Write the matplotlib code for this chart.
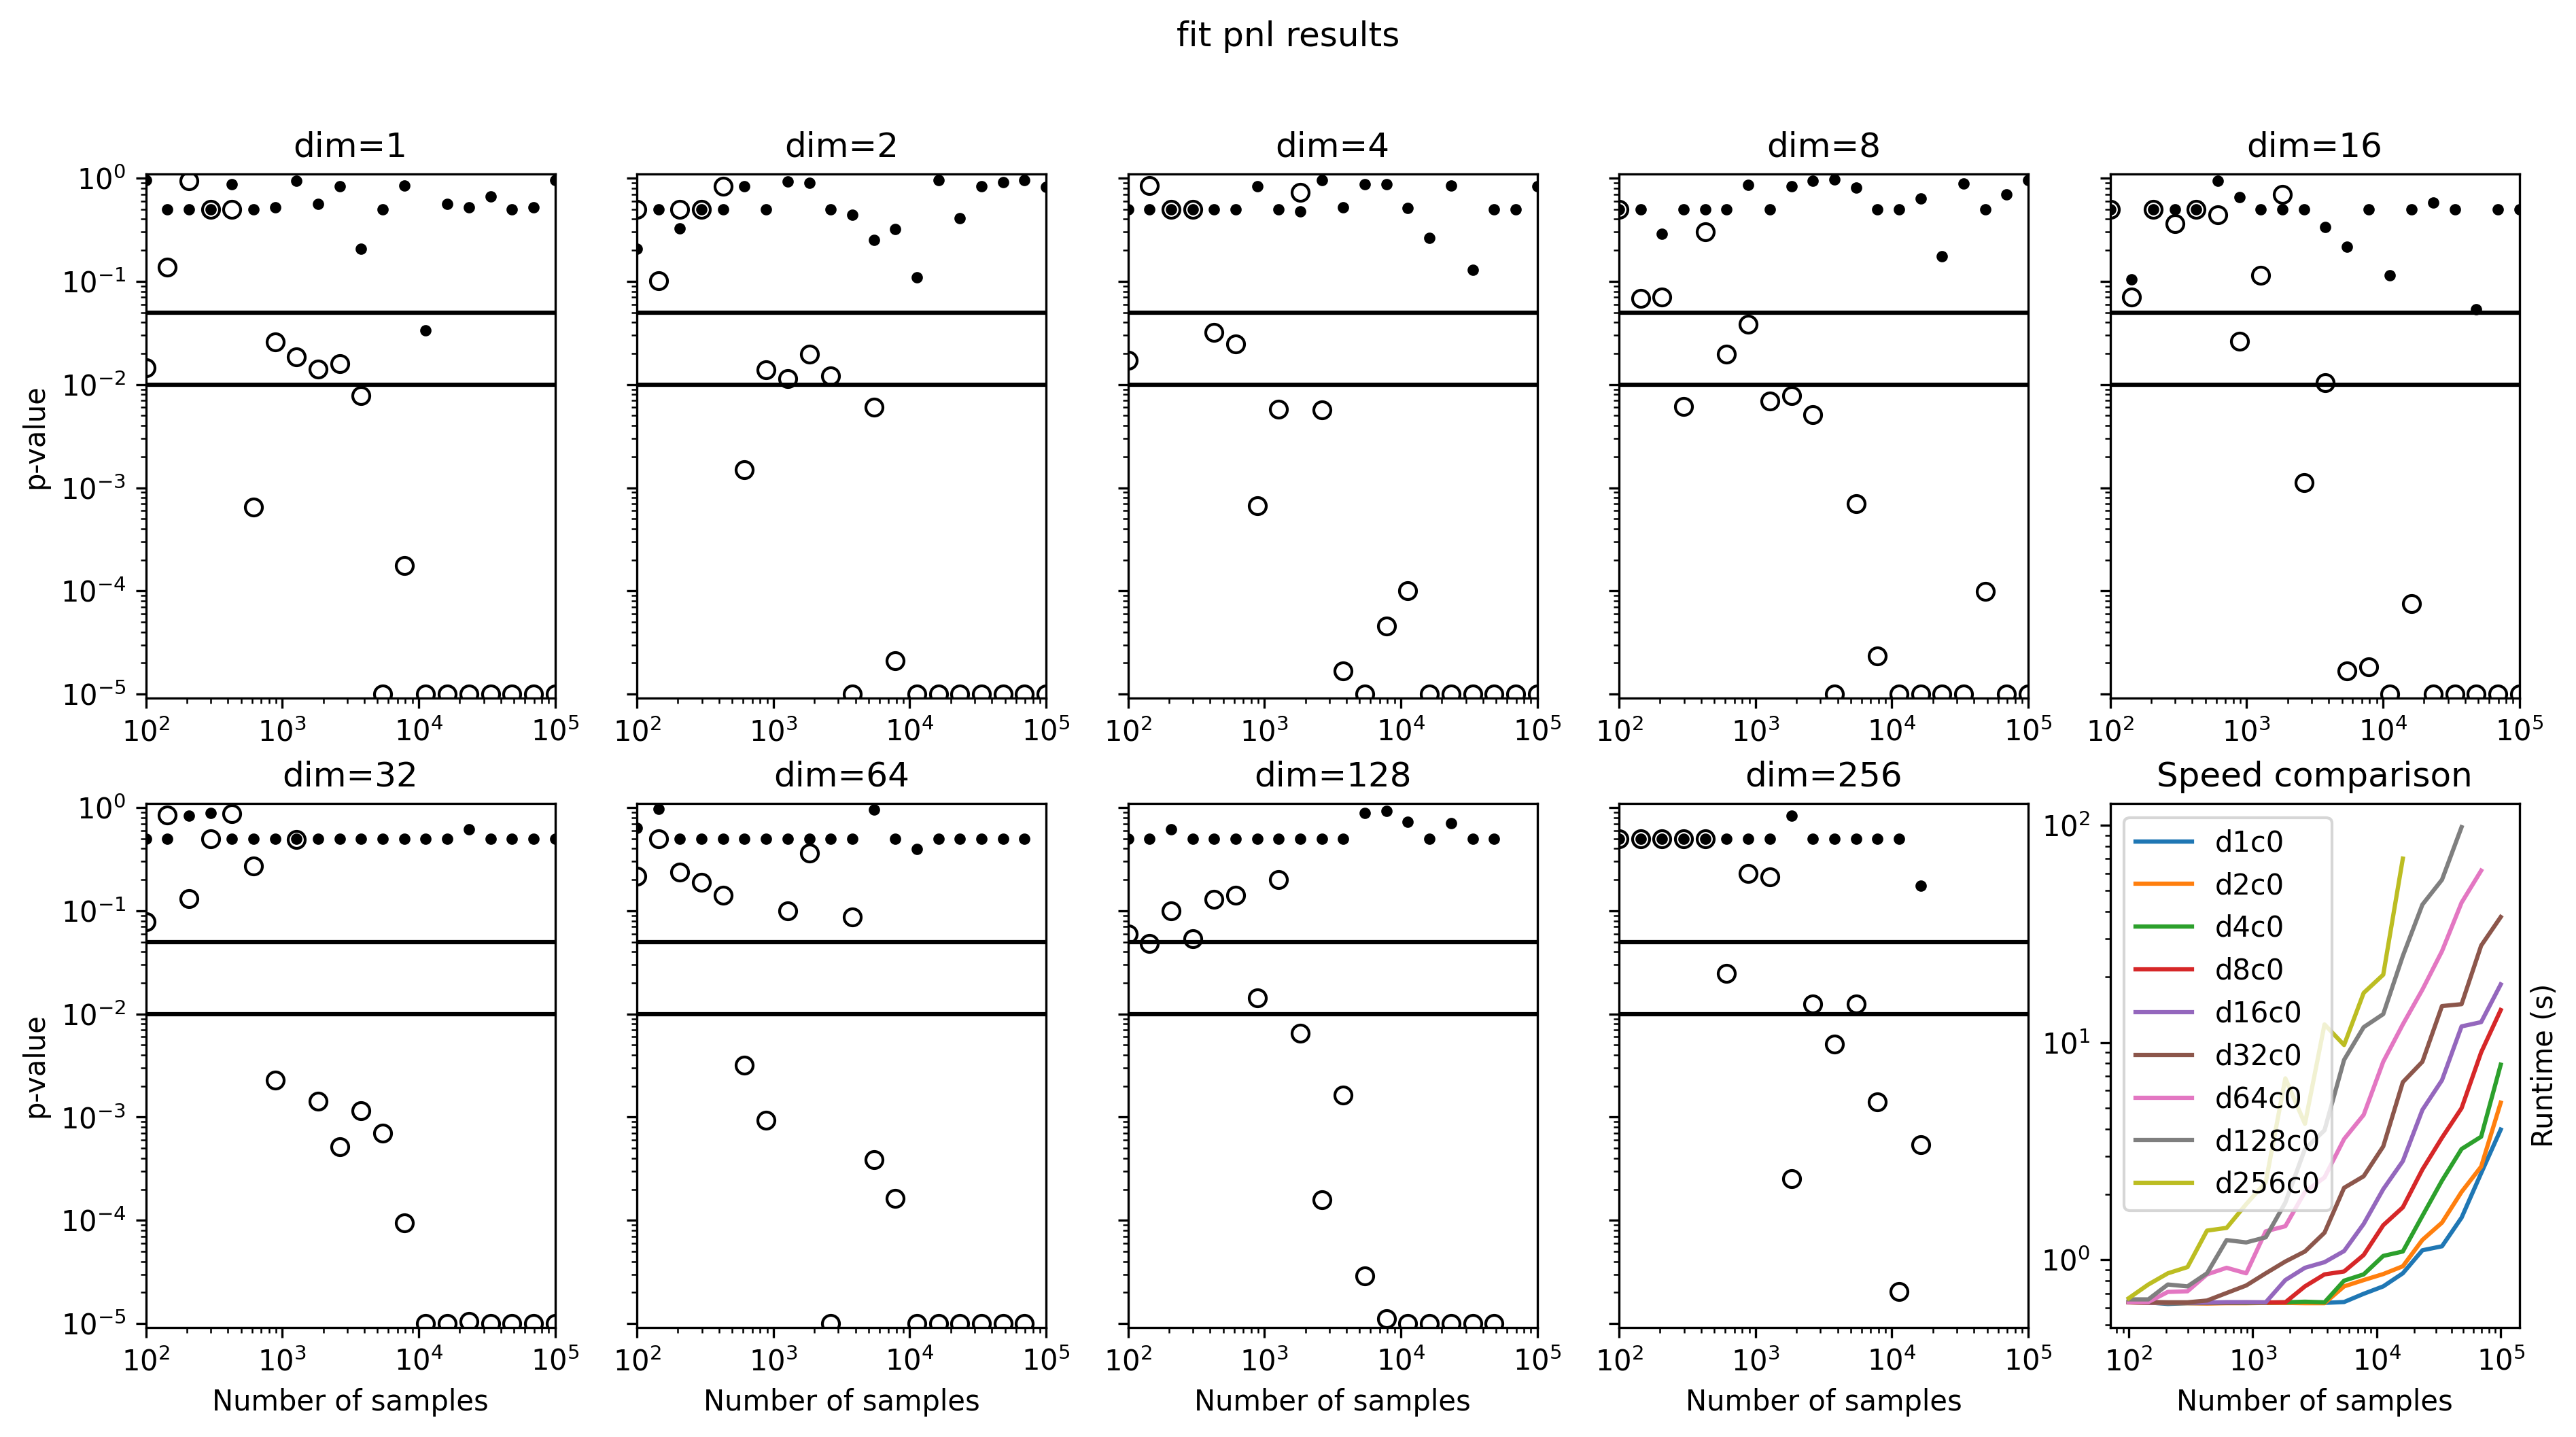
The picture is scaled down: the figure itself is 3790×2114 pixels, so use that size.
import numpy as np
import matplotlib
matplotlib.use("Agg")
import matplotlib.pyplot as plt

# sample sizes used in every test
n_samples = [100, 144, 207, 298, 428, 616, 886, 1274, 1833, 2637,
             3793, 5456, 7848, 11288, 16238, 23357, 33598, 48329, 69519, 100000]

dims = [1, 2, 4, 8, 16, 32, 64, 128, 256]

# p-values, independent data (filled dots) and dependent data (open circles)
pval_indep_d1 = [0.95, 0.5, 0.5, 0.5, 0.875, 0.5, 0.52, 0.94, 0.56, 0.83,
                 0.207, 0.5, 0.85, 0.0335, 0.56, 0.52, 0.665, 0.5, 0.52, 0.95]
pval_dep_d1 = [0.0145, 0.138, 0.94, 0.5, 0.5, 6.5e-4, 0.0259, 0.0185, 0.0141, 0.016,
               0.0078, 1e-5, 1.75e-4, 1e-5, 1e-5, 1e-5, 1e-5, 1e-5, 1e-5, 1e-5]

pval_indep_d2 = [0.206, 0.5, 0.328, 0.5, 0.5, 0.84, 0.5, 0.935, 0.905, 0.5,
                 0.442, 0.253, 0.322, 0.110, 0.96, 0.41, 0.83, 0.92, 0.96, 0.82]
pval_dep_d2 = [0.5, 0.101, 0.5, 0.5, 0.83, 1.5e-3, 0.0139, 0.01145, 0.0198, 0.0122,
               1e-5, 0.006, 2.1e-5, 1e-5, 1e-5, 1e-5, 1e-5, 1e-5, 1e-5, 1e-5]

pval_indep_d4 = [0.5, 0.5, 0.5, 0.5, 0.5, 0.5, 0.83, 0.5, 0.477, 0.96,
                 0.518, 0.875, 0.875, 0.51, 0.264, 0.85, 0.13, 0.5, 0.5, 0.83]
pval_dep_d4 = [0.0172, 0.85, 0.5, 0.5, 0.0321, 0.0246, 6.7e-4, 5.78e-3, 0.729, 5.69e-3,
               1.67e-5, 1e-5, 4.55e-5, 1e-4, 1e-5, 1e-5, 1e-5, 1e-5, 1e-5, 1e-5]

pval_indep_d8 = [0.5, 0.5, 0.289, 0.5, 0.5, 0.5, 0.86, 0.5, 0.84, 0.94,
                 0.97, 0.81, 0.5, 0.5, 0.638, 0.175, 0.89, 0.5, 0.70, 0.96]
pval_dep_d8 = [0.5, 0.0686, 0.0703, 0.00613, 0.30, 0.0197, 0.0386, 0.00689, 0.0078, 0.0051,
               1e-5, 6.98e-4, 2.34e-5, 1e-5, 1e-5, 1e-5, 1e-5, 9.86e-5, 1e-5, 1e-5]

pval_indep_d16 = [0.5, 0.105, 0.5, 0.5, 0.5, 0.94, 0.654, 0.5, 0.5, 0.5,
                  0.336, 0.218, 0.5, 0.115, 0.5, 0.582, 0.5, 0.0538, 0.5, 0.5]
pval_dep_d16 = [0.5, 0.0703, 0.5, 0.362, 0.5, 0.442, 0.0263, 0.115, 0.70, 1.12e-3,
                0.0105, 1.69e-5, 1.84e-5, 1e-5, 7.5e-5, 1e-5, 1e-5, 1e-5, 1e-5, 1e-5]

pval_indep_d32 = [0.5, 0.5, 0.83, 0.883, 0.5, 0.5, 0.5, 0.5, 0.5, 0.5,
                  0.5, 0.5, 0.5, 0.5, 0.5, 0.617, 0.5, 0.5, 0.5, 0.5]
pval_dep_d32 = [0.0783, 0.847, 0.131, 0.5, 0.868, 0.27, 2.28e-3, 0.489, 1.43e-3, 5.2e-4,
                1.15e-3, 7.0e-4, 9.5e-5, 1e-5, 1e-5, 1.05e-5, 1e-5, 1e-5, 1e-5, 1e-5]

pval_indep_d64 = [0.638, 0.965, 0.5, 0.5, 0.5, 0.5, 0.5, 0.5, 0.5, 0.5,
                  0.5, 0.95, 0.5, 0.397, 0.5, 0.5, 0.5, 0.5, 0.5]
pval_dep_d64 = [0.216, 0.5, 0.237, 0.19, 0.141, 3.18e-3, 9.33e-4, 0.0999, 0.362, 1e-5,
                0.0873, 3.87e-4, 1.64e-4, 1e-5, 1e-5, 1e-5, 1e-5, 1e-5, 1e-5]

pval_indep_d128 = [0.5, 0.5, 0.617, 0.5, 0.5, 0.5, 0.5, 0.5, 0.5, 0.5,
                   0.5, 0.89, 0.93, 0.73, 0.5, 0.705, 0.5, 0.5]
pval_dep_d128 = [0.0594, 0.0483, 0.1, 0.0534, 0.129, 0.141, 0.0143, 0.2, 0.0065, 1.58e-4,
                 1.63e-3, 2.9e-5, 1.12e-5, 1e-5, 1e-5, 1e-5, 1e-5, 1e-5]

pval_indep_d256 = [0.5, 0.5, 0.5, 0.5, 0.5, 0.5, 0.5, 0.5, 0.83, 0.5,
                   0.5, 0.5, 0.5, 0.5, 0.174]
pval_dep_d256 = [0.5, 0.5, 0.5, 0.5, 0.5, 0.0246, 0.231, 0.214, 2.55e-4, 0.01244,
                 5.14e-3, 0.01244, 1.4e-3, 2.05e-5, 5.4e-4]

# runtimes in seconds
runtime_d1 = [0.64, 0.635, 0.625, 0.63, 0.63, 0.632, 0.632, 0.632, 0.632, 0.632,
              0.632, 0.638, 0.696, 0.753, 0.865, 1.104, 1.152, 1.56, 2.50, 3.97]
runtime_d2 = [0.635, 0.632, 0.63, 0.63, 0.628, 0.63, 0.63, 0.632, 0.632, 0.63,
              0.63, 0.753, 0.805, 0.858, 0.932, 1.232, 1.48, 2.05, 2.68, 5.28]
runtime_d4 = [0.636, 0.634, 0.632, 0.632, 0.632, 0.632, 0.632, 0.634, 0.636, 0.64,
              0.636, 0.80, 0.855, 1.04, 1.09, 1.59, 2.31, 3.23, 3.68, 7.9]
runtime_d8 = [0.636, 0.634, 0.634, 0.634, 0.634, 0.634, 0.635, 0.635, 0.636, 0.753,
              0.855, 0.882, 1.05, 1.44, 1.74, 2.60, 3.64, 4.98, 9.0, 14.1]
runtime_d16 = [0.636, 0.634, 0.634, 0.634, 0.634, 0.637, 0.637, 0.636, 0.805, 0.917,
               0.973, 1.095, 1.46, 2.11, 2.84, 4.89, 6.7, 11.85, 12.4, 18.5]
runtime_d32 = [0.638, 0.638, 0.636, 0.636, 0.648, 0.702, 0.76, 0.865, 0.98, 1.09,
               1.33, 2.14, 2.42, 3.32, 6.56, 8.15, 14.7, 15.0, 27.9, 37.8]
runtime_d64 = [0.638, 0.638, 0.71, 0.715, 0.855, 0.917, 0.865, 1.35, 1.425, 2.05,
               2.39, 3.59, 4.64, 8.15, 12.1, 17.5, 26.3, 44.0, 61.8]
runtime_d128 = [0.656, 0.656, 0.768, 0.753, 0.865, 1.23, 1.2, 1.267, 1.83, 3.23,
                3.94, 8.31, 11.75, 13.5, 25.0, 43.1, 56.1, 98.0]
runtime_d256 = [0.664, 0.768, 0.865, 0.924, 1.36, 1.40, 1.80, 2.27, 6.83, 4.22,
                12.1, 9.73, 16.9, 20.5, 70.2]

pval_indep = [pval_indep_d1, pval_indep_d2, pval_indep_d4, pval_indep_d8, pval_indep_d16,
              pval_indep_d32, pval_indep_d64, pval_indep_d128, pval_indep_d256]
pval_dep = [pval_dep_d1, pval_dep_d2, pval_dep_d4, pval_dep_d8, pval_dep_d16,
            pval_dep_d32, pval_dep_d64, pval_dep_d128, pval_dep_d256]
runtimes = [runtime_d1, runtime_d2, runtime_d4, runtime_d8, runtime_d16,
            runtime_d32, runtime_d64, runtime_d128, runtime_d256]


def plot_pvalues(ax, dim, indep, dep, row, col):
    x_dep = n_samples[:len(dep)]
    x_indep = n_samples[:len(indep)]
    ax.plot(x_dep, dep, "o", mfc="none", mec="k", ms=6)
    ax.plot(x_indep, indep, "k.", ms=6)
    ax.axhline(0.05, color="k")
    ax.axhline(0.01, color="k")
    ax.set_xscale("log")
    ax.set_yscale("log")
    ax.set_xlim(1e2, 1e5)
    ax.set_ylim(9.1e-6, 1.1)
    ax.set_title("dim=%d" % dim)
    if col == 0:
        ax.set_ylabel("p-value")
    else:
        ax.tick_params(labelleft=False)
    if row == 1:
        ax.set_xlabel("Number of samples")


def plot_speed(ax):
    for dim, rt in zip(dims, runtimes):
        ax.plot(n_samples[:len(rt)], rt, label="d%dc0" % dim)
    ax.set_xscale("log")
    ax.set_yscale("log")
    ax.set_title("Speed comparison")
    ax.set_xlabel("Number of samples")
    ax.set_ylabel("Runtime (s)")
    ax.yaxis.set_label_position("right")
    ax.legend(loc="upper left")


def main():
    fig, axes = plt.subplots(2, 5, figsize=(3790 / 300, 2114 / 300))
    fig.subplots_adjust(left=0.0566, right=0.978, top=0.879, bottom=0.076,
                        wspace=0.2, hspace=0.2)
    for i, dim in enumerate(dims):
        row, col = divmod(i, 5)
        plot_pvalues(axes[row, col], dim, pval_indep[i], pval_dep[i], row, col)
    plot_speed(axes[1, 4])
    fig.suptitle("fit pnl results", y=0.986)
    fig.savefig("out.png", dpi=300)


if __name__ == "__main__":
    main()
